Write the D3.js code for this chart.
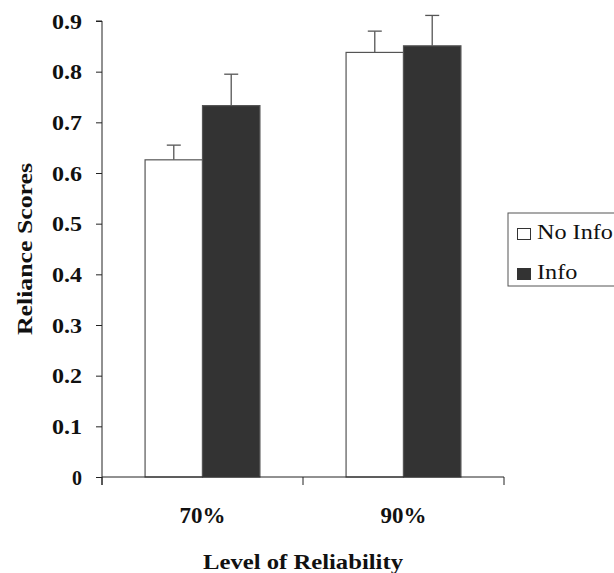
<!DOCTYPE html>
<html>
<head>
<meta charset="utf-8">
<script src="https://cdn.jsdelivr.net/npm/d3@7"></script>
<style>
  html, body { margin: 0; padding: 0; background: #fff; overflow: hidden; }
  text { font-family: "Liberation Serif", "Times New Roman", serif; font-weight: bold; fill: #111; }
</style>
</head>
<body>
<div id="chart"></div>
<script>
// Reliance scores by level of reliability, with/without info
var categories = ["70%", "90%"];
var seriesNames = ["No Info", "Info"];
var noInfoValues = [0.626, 0.838];
var infoValues = [0.733, 0.851];
var noInfoErrors = [0.029, 0.042];
var infoErrors = [0.062, 0.060];
var yTicks = [0, 0.1, 0.2, 0.3, 0.4, 0.5, 0.6, 0.7, 0.8, 0.9];
var seriesFill = ["#ffffff", "#333333"];

var totalW = 614, totalH = 573;
var margin = { top: 21, right: 110, bottom: 96, left: 102 };
var width = totalW - margin.left - margin.right;
var height = totalH - margin.top - margin.bottom;

var svg = d3.select("#chart").append("svg")
    .attr("width", totalW)
    .attr("height", totalH);

var g = svg.append("g")
    .attr("transform", "translate(" + margin.left + "," + margin.top + ")");

var series = [
    { name: seriesNames[0], values: noInfoValues, errors: noInfoErrors, fill: seriesFill[0] },
    { name: seriesNames[1], values: infoValues, errors: infoErrors, fill: seriesFill[1] }
];

// --- Scales ---
var x0 = d3.scaleBand().domain(categories).range([0, width]);
var x1 = d3.scaleBand().domain(seriesNames).range([0, x0.bandwidth()]).paddingOuter(0.75);
var y = d3.scaleLinear().domain([0, 0.9]).range([height, 0]);

// --- Bars ---
categories.forEach(function(c, ci) {
    series.forEach(function(s) {
        var bx = x0(c) + x1(s.name);
        var bw = x1.bandwidth();
        var top = y(s.values[ci]);
        var errTop = y(s.values[ci] + s.errors[ci]);
        var cx = bx + bw / 2;
        // error bar (upper only)
        g.append("line")
            .attr("x1", cx).attr("x2", cx)
            .attr("y1", top).attr("y2", errTop)
            .attr("stroke", "#555").attr("stroke-width", 1.3);
        g.append("line")
            .attr("x1", cx - 7).attr("x2", cx + 7)
            .attr("y1", errTop).attr("y2", errTop)
            .attr("stroke", "#555").attr("stroke-width", 1.3);
        g.append("rect")
            .attr("x", bx).attr("y", top)
            .attr("width", bw).attr("height", height - top)
            .attr("fill", s.fill)
            .attr("stroke", "#555").attr("stroke-width", 1.2);
    });
});

// --- Y axis ---
var yAxis = g.append("g")
    .call(d3.axisLeft(y).tickValues(yTicks).tickSize(6).tickPadding(14)
        .tickFormat(function(d) { return d === 0 ? "0" : d3.format(".1f")(d); }));
yAxis.select(".domain").attr("stroke", "#222").attr("d", "M0," + (height + 8) + "V0H-6");
yAxis.selectAll(".tick line").attr("stroke", "#222");
yAxis.selectAll(".tick text")
    .style("font-size", "20px")
    .attr("fill", "#111")
    .attr("dy", "0.35em")
    .each(function(d) {
        if (d !== 0) d3.select(this).attr("textLength", 30).attr("lengthAdjust", "spacingAndGlyphs");
    });

// --- X axis: baseline with ticks at category boundaries ---
var bounds = categories.map(function(c) { return x0(c); }).concat([width]);
g.append("line")
    .attr("x1", 0).attr("x2", width)
    .attr("y1", height).attr("y2", height)
    .attr("stroke", "#222");
bounds.forEach(function(b) {
    g.append("line")
        .attr("x1", b).attr("x2", b)
        .attr("y1", height).attr("y2", height + 8)
        .attr("stroke", "#222");
});
categories.forEach(function(c) {
    g.append("text")
        .attr("x", x0(c) + x0.bandwidth() / 2)
        .attr("y", height + 46)
        .attr("text-anchor", "middle")
        .style("font-size", "23px")
        .text(c);
});

// --- Axis titles ---
svg.append("text")
    .attr("x", margin.left + width / 2)
    .attr("y", 569)
    .attr("text-anchor", "middle")
    .style("font-size", "22px")
    .attr("textLength", 200)
    .attr("lengthAdjust", "spacingAndGlyphs")
    .text("Level of Reliability");

svg.append("text")
    .attr("transform", "translate(32," + (margin.top + height / 2) + ") rotate(-90)")
    .attr("text-anchor", "middle")
    .style("font-size", "21px")
    .attr("textLength", 172)
    .attr("lengthAdjust", "spacingAndGlyphs")
    .text("Reliance Scores");

// --- Legend (clipped at the right edge) ---
var legend = svg.append("g").attr("transform", "translate(508,213)");
legend.append("rect")
    .attr("x", 0).attr("y", 0)
    .attr("width", 120).attr("height", 73)
    .attr("fill", "#fff").attr("stroke", "#555");
series.forEach(function(s, i) {
    var ly = 26 + i * 40;
    legend.append("rect")
        .attr("x", 9.5).attr("y", ly - 10.5)
        .attr("width", 13).attr("height", 11)
        .attr("fill", s.fill).attr("stroke", "#333");
    legend.append("text")
        .attr("transform", "translate(29," + ly + ") scale(1.1,1)")
        .style("font-size", "22px")
        .style("font-weight", "normal")
        .text(s.name);
});
</script>
</body>
</html>
